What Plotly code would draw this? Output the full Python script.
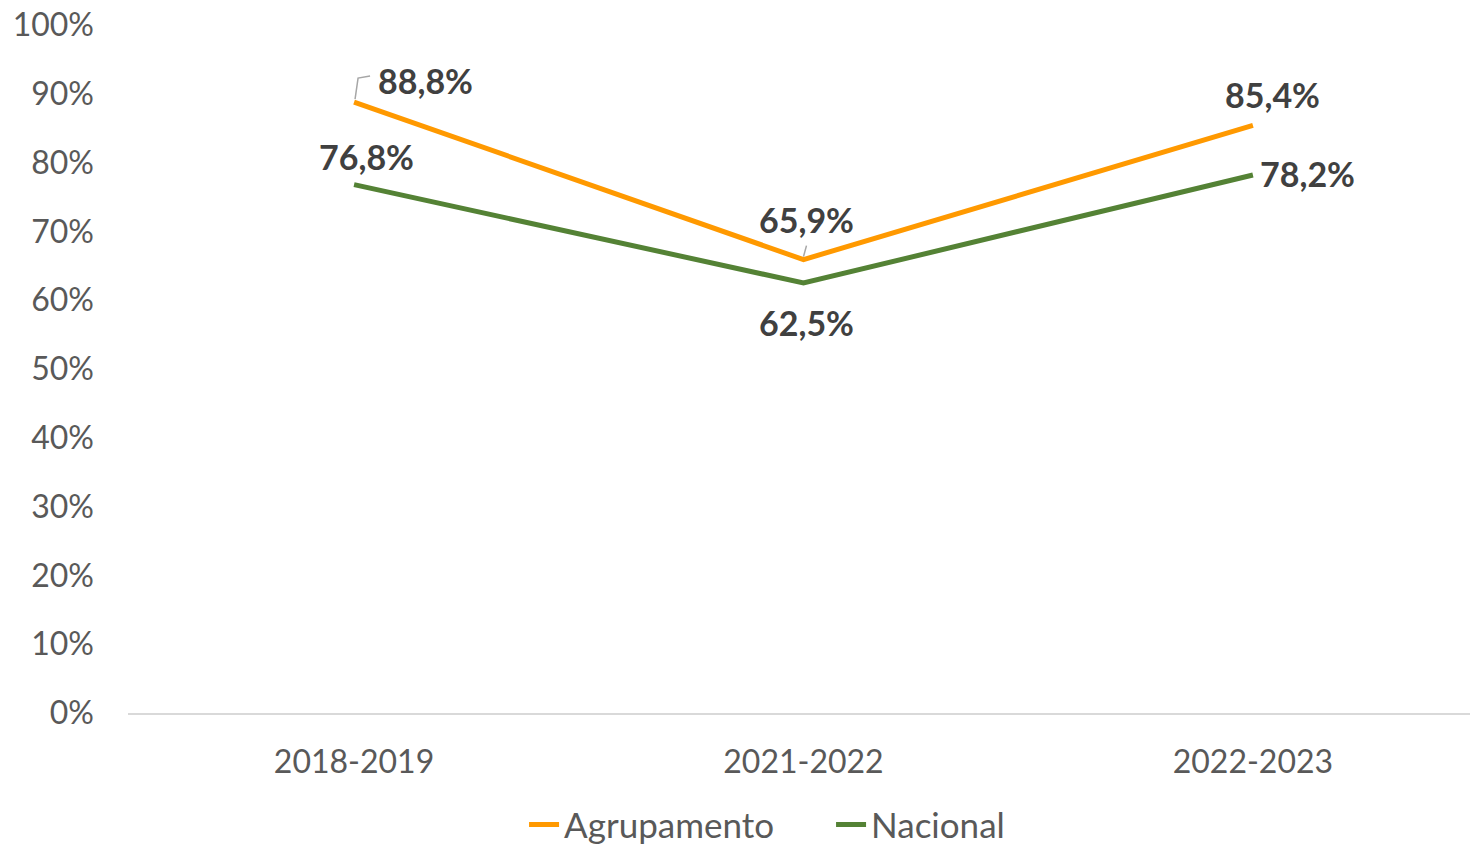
import plotly.graph_objects as go

categories = ["2018-2019", "2021-2022", "2022-2023"]
agrupamento = [88.8, 65.9, 85.4]
nacional = [76.8, 62.5, 78.2]
y_ticks = list(range(0, 101, 10))
y_tick_labels = [f"{v}%" for v in y_ticks]

ORANGE = "#FF9900"
GREEN = "#548235"
FONT = "Lato, 'Open Sans', sans-serif"

fig = go.Figure()
fig.add_trace(go.Scatter(x=categories, y=agrupamento, mode="lines", name="Agrupamento",
                         line=dict(color=ORANGE, width=5)))
fig.add_trace(go.Scatter(x=categories, y=nacional, mode="lines", name="Nacional",
                         line=dict(color=GREEN, width=5)))

def fmt(v):
    return f"{v:.1f}".replace(".", ",") + "%"

label_font = dict(family=FONT, size=34, color="#404040")
# (series values, index, x offset px, y offset px)
label_offsets = [
    (agrupamento, 0, 71, 22),
    (agrupamento, 1, 3, 40),
    (agrupamento, 2, 20, 31),
    (nacional, 0, 12, 28),
    (nacional, 1, 3, -39),
    (nacional, 2, 55, 1),
]
for series, i, dx, dy in label_offsets:
    fig.add_annotation(x=categories[i], y=series[i], text=f"<b>{fmt(series[i])}</b>",
                       showarrow=False, xshift=dx, yshift=dy, font=label_font)

# leader lines
fig.add_shape(type="path", xref="x", yref="y", xsizemode="pixel", ysizemode="pixel",
              xanchor=0, yanchor=agrupamento[0], x0=0, x1=0, y0=0, y1=0,
              path="M1,3 L4,24 L16,26", line=dict(color="#A6A6A6", width=1.5))
fig.add_shape(type="path", xref="x", yref="y", xsizemode="pixel", ysizemode="pixel",
              xanchor=1, yanchor=agrupamento[1], x0=0, x1=0, y0=0, y1=0,
              path="M0,3 L3,14", line=dict(color="#A6A6A6", width=1.5))

fig.update_layout(
    width=1470, height=846,
    margin=dict(l=128, r=0, t=25, b=133),
    paper_bgcolor="white", plot_bgcolor="white",
    font=dict(family=FONT, color="#595959"),
    showlegend=True,
    legend=dict(orientation="h", xref="container", yref="container",
                x=0.3565, xanchor="left", y=0.025, yanchor="middle",
                font=dict(family=FONT, size=35, color="#595959"),
                entrywidth=262, entrywidthmode="pixels",
                tracegroupgap=0),
    xaxis=dict(type="category", range=[-0.503, 2.483], showgrid=False, zeroline=False,
               showline=True, linecolor="#D9D9D9", linewidth=2, ticks="",
               tickfont=dict(family=FONT, size=32, color="#595959"), ticklabelstandoff=20),
    yaxis=dict(range=[0, 100], tickvals=y_ticks, ticktext=y_tick_labels, showgrid=False,
               zeroline=False, showline=False, ticks="",
               tickfont=dict(family=FONT, size=32, color="#595959"), ticklabelstandoff=33),
)

fig.write_html("out.html", config={"displayModeBar": False},
               post_script="document.body.style.margin='0';document.body.style.overflow='hidden';")
